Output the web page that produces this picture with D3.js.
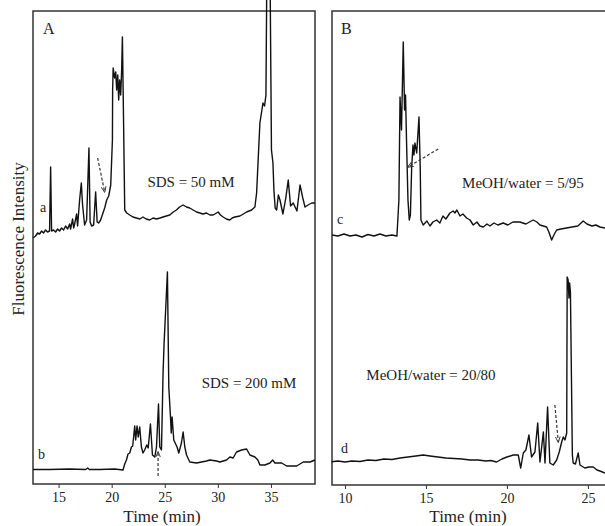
<!DOCTYPE html>
<html>
<head>
<meta charset="utf-8">
<script src="https://cdn.jsdelivr.net/npm/d3@7"></script>
<style>
  body { margin: 0; background: #fff; }
  svg text { font-family: "Liberation Serif", "Times New Roman", serif; fill: #222; }
</style>
</head>
<body>
<svg id="chart" width="605" height="526"></svg>
<script>
// retention time (min) and fluorescence (arbitrary units)
var timeA = [12.59, 12.83, 13.02, 13.21, 13.40, 13.58, 13.77, 13.96, 14.15, 14.25, 14.34, 14.53, 14.72, 14.91, 15.09, 15.28, 15.47, 15.66, 15.85, 16.04, 16.13, 16.32, 16.42, 16.51, 16.70, 16.79, 16.98, 17.14, 17.26, 17.45, 17.64, 17.86, 17.97, 18.11, 18.30, 18.49, 18.63, 18.77, 18.96, 19.15, 19.34, 19.53, 19.72, 19.91, 20.07, 20.09, 20.14, 20.28, 20.38, 20.47, 20.57, 20.66, 20.75, 20.85, 20.94, 21.01, 21.08, 21.23, 21.42, 21.70, 22.00, 22.33, 22.65, 22.95, 23.25, 23.58, 23.90, 24.22, 24.55, 24.84, 25.15, 25.47, 25.80, 26.10, 26.40, 26.73, 27.05, 27.35, 27.67, 28.00, 28.30, 28.60, 28.93, 29.25, 29.56, 30.03, 30.25, 30.50, 30.80, 31.13, 31.35, 31.60, 32.08, 32.40, 32.71, 33.18, 33.49, 33.65, 33.96, 34.25, 34.40, 34.53, 34.62, 34.91, 35.05, 35.19, 35.28, 35.40, 35.54, 35.70, 35.85, 36.13, 36.40, 36.63, 36.85, 37.10, 37.45, 37.74, 38.00, 38.21, 38.49, 38.84, 39.15];
var traceA = [24.6, 24.8, 25.1, 25.0, 25.3, 25.1, 25.4, 25.2, 25.3, 31.7, 25.3, 25.4, 25.2, 25.5, 25.3, 25.6, 25.4, 25.8, 25.5, 26.0, 25.5, 26.5, 25.6, 26.0, 27.0, 25.8, 28.4, 30.1, 27.9, 25.9, 26.4, 33.6, 26.2, 25.8, 25.9, 29.2, 26.2, 26.1, 26.4, 27.0, 27.6, 28.4, 28.8, 29.9, 34.4, 39.4, 41.6, 40.6, 41.2, 39.4, 40.9, 38.4, 40.4, 38.9, 41.4, 44.7, 39.4, 27.4, 27.1, 26.9, 26.7, 26.6, 26.5, 26.7, 26.5, 26.4, 26.6, 26.5, 26.6, 26.7, 26.8, 26.9, 27.2, 27.4, 27.7, 27.9, 27.7, 27.6, 27.4, 27.2, 27.1, 27.0, 27.1, 26.9, 26.9, 27.2, 26.9, 26.7, 26.5, 26.4, 26.6, 26.7, 26.8, 27.0, 27.2, 27.4, 27.7, 29.1, 36.1, 38.1, 37.8, 38.9, 52.0, 52.0, 33.4, 32.1, 29.4, 27.6, 27.4, 28.9, 28.4, 27.0, 28.6, 30.4, 27.8, 28.1, 27.3, 29.9, 28.6, 27.7, 27.9, 28.1, 28.1];

var timeB = [12.59, 14.15, 16.04, 17.55, 17.74, 17.90, 18.87, 20.28, 21.07, 21.23, 21.39, 21.54, 21.70, 21.86, 21.98, 22.17, 22.26, 22.39, 22.50, 22.64, 22.80, 22.95, 23.11, 23.30, 23.44, 23.65, 23.84, 24.06, 24.22, 24.41, 24.53, 24.69, 24.84, 24.93, 25.25, 25.38, 25.54, 25.61, 25.69, 25.85, 26.16, 26.32, 26.57, 26.73, 26.89, 27.05, 27.36, 27.99, 28.93, 29.25, 29.88, 30.19, 30.82, 31.13, 31.44, 31.76, 32.24, 32.71, 33.02, 33.49, 33.77, 33.96, 34.43, 34.91, 35.16, 35.38, 36.01, 36.48, 37.42, 38.05, 38.68, 39.15];
var traceB = [1.45, 1.45, 1.5, 1.45, 1.6, 1.45, 1.45, 1.5, 1.4, 2.0, 2.4, 3.0, 3.1, 3.7, 3.8, 5.8, 4.4, 5.8, 4.7, 5.7, 3.7, 3.1, 3.4, 3.9, 3.6, 6.0, 2.9, 2.7, 3.7, 8.0, 3.7, 3.4, 11.1, 13.9, 21.2, 9.7, 6.7, 5.1, 6.7, 4.4, 3.7, 3.1, 4.1, 5.2, 3.7, 2.9, 2.2, 2.1, 2.3, 2.4, 2.3, 2.2, 2.4, 2.7, 2.6, 3.2, 3.4, 3.5, 2.9, 2.7, 2.4, 1.9, 1.9, 2.1, 2.4, 2.1, 2.1, 1.8, 1.8, 2.2, 2.2, 2.4];

var timeC = [9.20, 9.57, 9.94, 10.31, 10.68, 11.05, 11.42, 11.79, 12.16, 12.53, 12.90, 13.21, 13.33, 13.40, 13.49, 13.60, 13.68, 13.74, 13.80, 13.89, 13.97, 14.04, 14.12, 14.20, 14.26, 14.32, 14.43, 14.57, 14.65, 14.69, 14.83, 15.06, 15.25, 15.43, 15.66, 15.86, 16.05, 16.23, 16.48, 16.68, 16.79, 16.91, 17.10, 17.28, 17.51, 17.72, 17.92, 18.15, 18.33, 18.54, 18.77, 18.95, 19.20, 19.44, 19.77, 20.06, 20.37, 20.80, 21.17, 21.62, 21.85, 22.04, 22.45, 22.59, 22.76, 22.90, 23.07, 23.33, 23.68, 24.01, 24.38, 24.71, 24.94, 25.25, 25.49, 25.74, 26.05];
var traceC = [25.0, 24.9, 25.1, 24.9, 25.0, 24.8, 25.05, 24.9, 25.1, 24.9, 25.0, 24.9, 28.5, 38.8, 35.5, 44.3, 37.5, 39.0, 34.5, 28.5, 26.5, 27.0, 31.8, 34.0, 33.0, 34.2, 33.2, 36.8, 31.5, 26.5, 26.0, 26.4, 25.9, 26.3, 26.5, 26.2, 26.9, 26.6, 27.2, 27.4, 27.2, 27.5, 26.9, 27.1, 26.7, 26.5, 26.0, 26.3, 25.9, 25.8, 26.1, 25.9, 26.2, 26.0, 26.2, 26.0, 26.3, 26.3, 26.1, 26.5, 26.3, 26.0, 25.8, 25.3, 24.5, 25.0, 25.5, 25.6, 25.7, 25.8, 25.9, 26.4, 26.1, 25.9, 26.0, 25.8, 25.7];

var timeD = [9.18, 9.57, 10.00, 10.43, 10.93, 11.42, 11.91, 12.41, 12.90, 13.40, 13.89, 14.38, 14.83, 15.25, 15.74, 16.23, 16.73, 17.22, 17.72, 18.21, 18.70, 19.01, 19.36, 19.69, 20.00, 20.39, 20.70, 20.85, 21.01, 21.17, 21.36, 21.52, 21.73, 21.90, 22.04, 22.25, 22.35, 22.51, 22.65, 22.86, 23.07, 23.23, 23.38, 23.48, 23.58, 23.69, 23.72, 23.78, 23.83, 23.87, 23.92, 24.04, 24.09, 24.23, 24.40, 24.51, 24.81, 25.06, 25.33, 25.56, 25.74, 26.05];
var traceD = [2.33, 2.4, 2.3, 2.4, 2.35, 2.5, 2.45, 2.6, 2.55, 2.7, 2.8, 2.9, 3.0, 2.9, 2.8, 2.7, 2.65, 2.6, 2.5, 2.5, 2.4, 2.45, 2.3, 2.6, 2.8, 3.0, 3.0, 1.7, 3.2, 3.5, 5.0, 2.8, 3.3, 6.2, 2.3, 5.3, 2.2, 7.8, 2.2, 2.0, 2.5, 3.3, 4.3, 4.8, 4.5, 5.2, 20.8, 20.5, 18.7, 20.2, 19.3, 3.0, 2.2, 2.1, 3.2, 2.0, 1.7, 1.8, 1.8, 1.5, 1.4, 1.2];

var ticksA = [15, 20, 25, 30, 35];
var ticksB = [10, 15, 20, 25];
var traceLabels = ['a', 'b', 'c', 'd'];
var conditionLabels = ['SDS = 50 mM', 'SDS = 200 mM', 'MeOH/water = 5/95', 'MeOH/water = 20/80'];
var panelLabels = ['A', 'B'];
// dashed arrows [t1, v1, t2, v2], pointing towards the second point
var arrowsA = [[18.68, 32.6, 19.34, 29.2], [24.37, 0.8, 24.37, 3.2]];
var arrowsB = [[15.76, 33.6, 13.89, 31.8], [22.96, 8.0, 23.17, 4.3]];

var svg = d3.select('#chart');

svg.append('defs').append('marker')
  .attr('id', 'head').attr('viewBox', '0 0 10 10')
  .attr('refX', 9).attr('refY', 5)
  .attr('markerWidth', 5).attr('markerHeight', 5)
  .attr('orient', 'auto')
  .append('path').attr('d', 'M0,1 L10,5 L0,9').attr('fill', 'none')
  .attr('stroke', '#333').attr('stroke-width', 1.5);

var xA = d3.scaleLinear().domain([12.59, 39.15]).range([33, 315]);
var yA = d3.scaleLinear().domain([0, 47.3]).range([484, 11]);
var xB = d3.scaleLinear().domain([9.2, 26.24]).range([332, 608]);
var yB = d3.scaleLinear().domain([0, 47.4]).range([485, 11]);

var drawPanel = function drawPanel(x, y, ticks, series, arrows) {
  var g = svg.append('g');
  var x0 = x.range()[0], x1 = x.range()[1];
  var y0 = y.range()[0], y1 = y.range()[1];

  g.append('rect').attr('x', x0).attr('y', y1)
    .attr('width', x1 - x0).attr('height', y0 - y1)
    .attr('fill', 'none').attr('stroke', '#333').attr('stroke-width', 1.5);

  var axis = g.append('g').attr('transform', 'translate(0,' + y0 + ')')
    .call(d3.axisBottom(x).tickValues(ticks).tickSize(4).tickPadding(4));
  axis.select('.domain').remove();
  axis.selectAll('line').attr('stroke', '#333');
  axis.selectAll('text').style('font-size', '14px').style('font-family', '"Liberation Serif", serif').attr('fill', '#222');

  var line = d3.line().x(function (d) { return x(d[0]); }).y(function (d) { return y(d[1]); });
  series.forEach(function (s) {
    g.append('path').datum(d3.zip(s[0], s[1])).attr('d', line)
      .attr('fill', 'none').attr('stroke', '#111').attr('stroke-width', 1.4)
      .attr('stroke-linejoin', 'round');
  });

  arrows.forEach(function (a) {
    g.append('line')
      .attr('x1', x(a[0])).attr('y1', y(a[1]))
      .attr('x2', x(a[2])).attr('y2', y(a[3]))
      .attr('stroke', '#333').attr('stroke-width', 1.2)
      .attr('stroke-dasharray', '3,2').attr('marker-end', 'url(#head)');
  });
  return g;
};

var gA = drawPanel(xA, yA, ticksA, [[timeA, traceA], [timeB, traceB]], arrowsA);
var gB = drawPanel(xB, yB, ticksB, [[timeC, traceC], [timeD, traceD]], arrowsB);

// panel letters, trace letters, conditions
var addText = function addText(g, px, py, txt, size, anchor) {
  g.append('text').attr('x', px).attr('y', py).attr('text-anchor', anchor || 'start')
    .style('font-size', size + 'px').text(txt);
};
addText(gA, 43, 34, panelLabels[0], 16);
addText(gB, 341, 34, panelLabels[1], 16);
addText(gA, 40, 212, traceLabels[0], 14);
addText(gA, 38, 459, traceLabels[1], 14);
addText(gB, 337, 224, traceLabels[2], 14);
addText(gB, 341, 453, traceLabels[3], 14);
addText(gA, 191, 187, conditionLabels[0], 15, 'middle');
addText(gA, 249, 388, conditionLabels[1], 15, 'middle');
addText(gB, 523, 188, conditionLabels[2], 15, 'middle');
addText(gB, 431, 380, conditionLabels[3], 15, 'middle');

addText(svg, 162, 522, 'Time (min)', 17, 'middle');
addText(svg, 468, 522, 'Time (min)', 17, 'middle');
svg.append('text').attr('transform', 'translate(24,239) rotate(-90)')
  .attr('text-anchor', 'middle').style('font-size', '17px').text('Fluorescence Intensity');
</script>
</body>
</html>
